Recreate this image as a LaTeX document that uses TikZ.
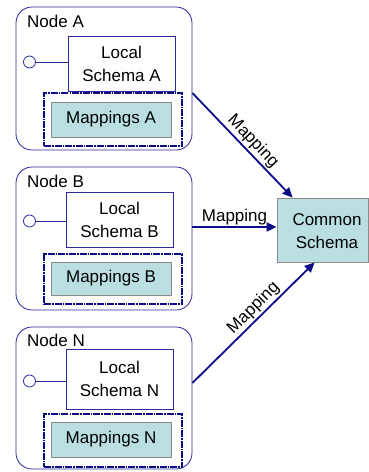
\documentclass[tikz,border=0pt]{standalone}
\usepackage{fontspec}
\setmainfont{Liberation Sans}
\usetikzlibrary{calc,arrows.meta}
\definecolor{edgeblue}{HTML}{2A2A9A}
\definecolor{navyline}{HTML}{0C0C86}
\definecolor{tealfill}{HTML}{B9DFE1}
\definecolor{boxgray}{HTML}{8A8A8A}
\tikzset{
  txt/.style={font=\fontsize{17}{23}\selectfont, text=black},
  sitebox/.style={draw=edgeblue, line width=0.8pt, rounded corners=16pt, minimum width=176pt, inner sep=0pt},
  schemabox/.style={txt, draw=edgeblue, line width=0.8pt, fill=white, align=center, minimum width=107pt, inner sep=0pt},
  mapframe/.style={draw=navyline, line width=1.8pt, dash pattern=on 7pt off 1pt on 1.5pt off 1pt, minimum width=138pt, inner sep=0pt},
  mapbox/.style={txt, draw=boxgray, line width=0.8pt, fill=tealfill, minimum width=120pt, inner sep=0pt},
  port/.style={circle, draw=edgeblue, line width=0.8pt, fill=white, minimum size=12pt, inner sep=0pt},
  portline/.style={draw=edgeblue, line width=0.8pt},
  maparrow/.style={draw=navyline, line width=1.8pt, -{Triangle[length=10pt, width=9pt]}},
  maplabel/.style={txt, inner sep=1.5pt}
}
\begin{document}
\begin{tikzpicture}[x=1pt, y=-1pt]
\useasboundingbox (0,0) rectangle (369,472);

% Node A
\node[sitebox, minimum height=143pt] (siteA) at (104,78.5) {};
\node[txt, anchor=west, inner sep=0pt] (labA) at (27,21) {Node A};
\node[schemabox, minimum height=55pt] (localA) at (121.5,63.5) {Local\\Schema A};
\node[mapframe, minimum height=53pt] (frameA) at (113,119.5) {};
\node[mapbox, minimum height=35pt] (mapA) at (111,119.5) {Mappings A};
\node[port] (portA) at (29.5,62) {};
\draw[portline] (portA.east) -- (portA.east -| localA.west);

% Node B
\node[sitebox, minimum height=143pt] (siteB) at (104,238.5) {};
\node[txt, anchor=west, inner sep=0pt] (labB) at (27,181) {Node B};
\node[schemabox, minimum height=55pt] (localB) at (119.5,219.5) {Local\\Schema B};
\node[mapframe, minimum height=50pt] (frameB) at (113,279) {};
\node[mapbox, minimum height=33pt] (mapB) at (111,278.5) {Mappings B};
\node[port] (portB) at (29.5,221) {};
\draw[portline] (portB.east) -- (portB.east -| localB.west);

% Node N
\node[sitebox, minimum height=142pt] (siteN) at (104,398) {};
\node[txt, anchor=west, inner sep=0pt] (labN) at (27,340) {Node N};
\node[schemabox, minimum height=60pt] (localN) at (119.5,379) {Local\\Schema N};
\node[mapframe, minimum height=53pt] (frameN) at (113,440.5) {};
\node[mapbox, minimum height=35pt] (mapN) at (111,439.5) {Mappings N};
\node[port] (portN) at (29.5,381) {};
\draw[portline] (portN.east) -- (portN.east -| localN.west);

% Common schema
\node[txt, draw=boxgray, line width=0.8pt, fill=tealfill, minimum width=91pt, minimum height=64pt, inner sep=0pt] (common) at (322.5,230) {};
\node[txt, align=center, inner sep=0pt] (commonlab) at (327,231) {Common\\Schema};

% Mapping connectors
\path (siteA.east) ++(0,14.5) coordinate (srcA);
\path (siteB.east) ++(0,-11.5) coordinate (srcB);
\path (siteN.east) ++(0,-15) coordinate (srcN);
\coordinate (dstA) at ($(common.north west)+(16,0)$);
\coordinate (dstB) at ($(common.west)+(0,-3)$);
\coordinate (dstN) at ($(common.south west)+(38,0)$);

\draw[maparrow] (srcA) -- node[maplabel, sloped, above, pos=0.53] {Mapping} (dstA);
\draw[maparrow] (srcB) -- node[maplabel, above, pos=0.5] {Mapping} (dstB);
\draw[maparrow] (srcN) -- node[maplabel, sloped, above, pos=0.56] {Mapping} (dstN);
\end{tikzpicture}
\end{document}
